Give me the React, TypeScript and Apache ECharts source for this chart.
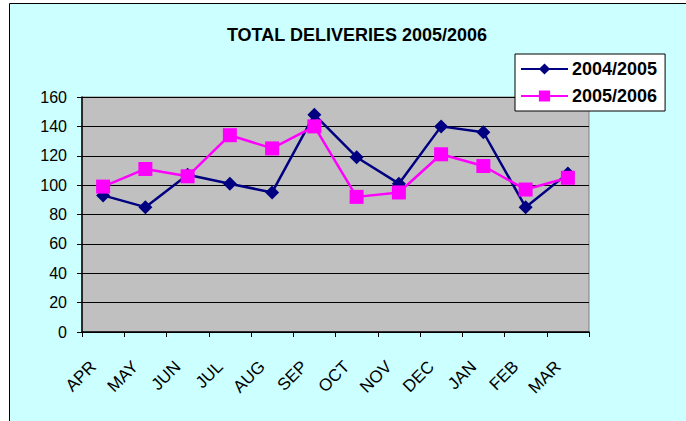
import React, { useEffect, useRef } from "react";
import * as echarts from "echarts";

const categories = ["APR", "MAY", "JUN", "JUL", "AUG", "SEP", "OCT", "NOV", "DEC", "JAN", "FEB", "MAR"];
const series2004 = [93, 85, 107, 101, 95, 148, 119, 101, 140, 136, 85, 108];
const series2005 = [99, 111, 106, 134, 125, 140, 92, 95, 121, 113, 97, 105];
const seriesNames = ["2004/2005", "2005/2006"];
const titleText = "TOTAL DELIVERIES 2005/2006";

export default function App() {
  const ref = useRef<HTMLDivElement>(null);
  useEffect(() => {
    if (!ref.current) return;
    const chart = echarts.init(ref.current, null, { renderer: "svg" });
    const font = "Liberation Sans, Arial, sans-serif";
    chart.setOption({
      animation: false,
      textStyle: { fontFamily: font },
      graphic: [
        {
          type: "rect",
          z: -10,
          silent: true,
          shape: { x: 9.5, y: 3.5, width: 700, height: 500 },
          style: { fill: "#CCFFFF", stroke: "#000", lineWidth: 1 },
        },
      ],
      title: {
        text: titleText,
        left: 352,
        textAlign: "center",
        top: 21,
        textStyle: { fontSize: 18, fontWeight: "bold", color: "#000", fontFamily: font },
      },
      legend: {
        orient: "vertical",
        left: 515,
        top: 54,
        padding: [6, 8, 6, 5],
        itemGap: 9,
        itemWidth: 47,
        itemHeight: 14,
        backgroundColor: "#fff",
        borderColor: "#000",
        borderWidth: 1,
        borderRadius: 0,
        textStyle: { fontSize: 18, fontWeight: "bold", color: "#000", fontFamily: font, padding: [0, 0, 0, -1] },
        data: seriesNames,
      },
      grid: { left: 82, right: 97, top: 97, bottom: 89, backgroundColor: "#C0C0C0", show: true, borderColor: "#808080", borderWidth: 1 },
      xAxis: {
        type: "category",
        data: categories,
        boundaryGap: true,
        axisLine: { lineStyle: { color: "#000", width: 1.5 } },
        axisTick: { show: true, length: 5, inside: false, lineStyle: { color: "#000" } },
        axisLabel: { rotate: 45, fontSize: 17, color: "#000", margin: 22, padding: [0, 14, 0, 0], fontFamily: font },
      },
      yAxis: {
        type: "value",
        min: 0,
        max: 160,
        interval: 20,
        axisLine: { show: true, lineStyle: { color: "#000", width: 1.5 } },
        axisTick: { show: true, length: 5, lineStyle: { color: "#000" } },
        axisLabel: { fontSize: 16, color: "#000", margin: 15, fontFamily: font },
        splitLine: { show: true, lineStyle: { color: "#000", width: 1 } },
      },
      series: [
        {
          name: seriesNames[0],
          type: "line",
          data: series2004,
          symbol: "diamond",
          symbolSize: 14,
          color: "#000080",
          lineStyle: { color: "#000080", width: 2.5 },
          itemStyle: { color: "#000080" },
        },
        {
          name: seriesNames[1],
          type: "line",
          data: series2005,
          symbol: "rect",
          symbolSize: 14,
          color: "#FF00FF",
          lineStyle: { color: "#FF00FF", width: 2.5 },
          itemStyle: { color: "#FF00FF" },
        },
      ],
    });
    return () => chart.dispose();
  }, []);
  return (
    <div
      ref={ref}
      style={{ position: "absolute", left: 0, top: 0, width: 686, height: 421 }}
    />
  );
}
